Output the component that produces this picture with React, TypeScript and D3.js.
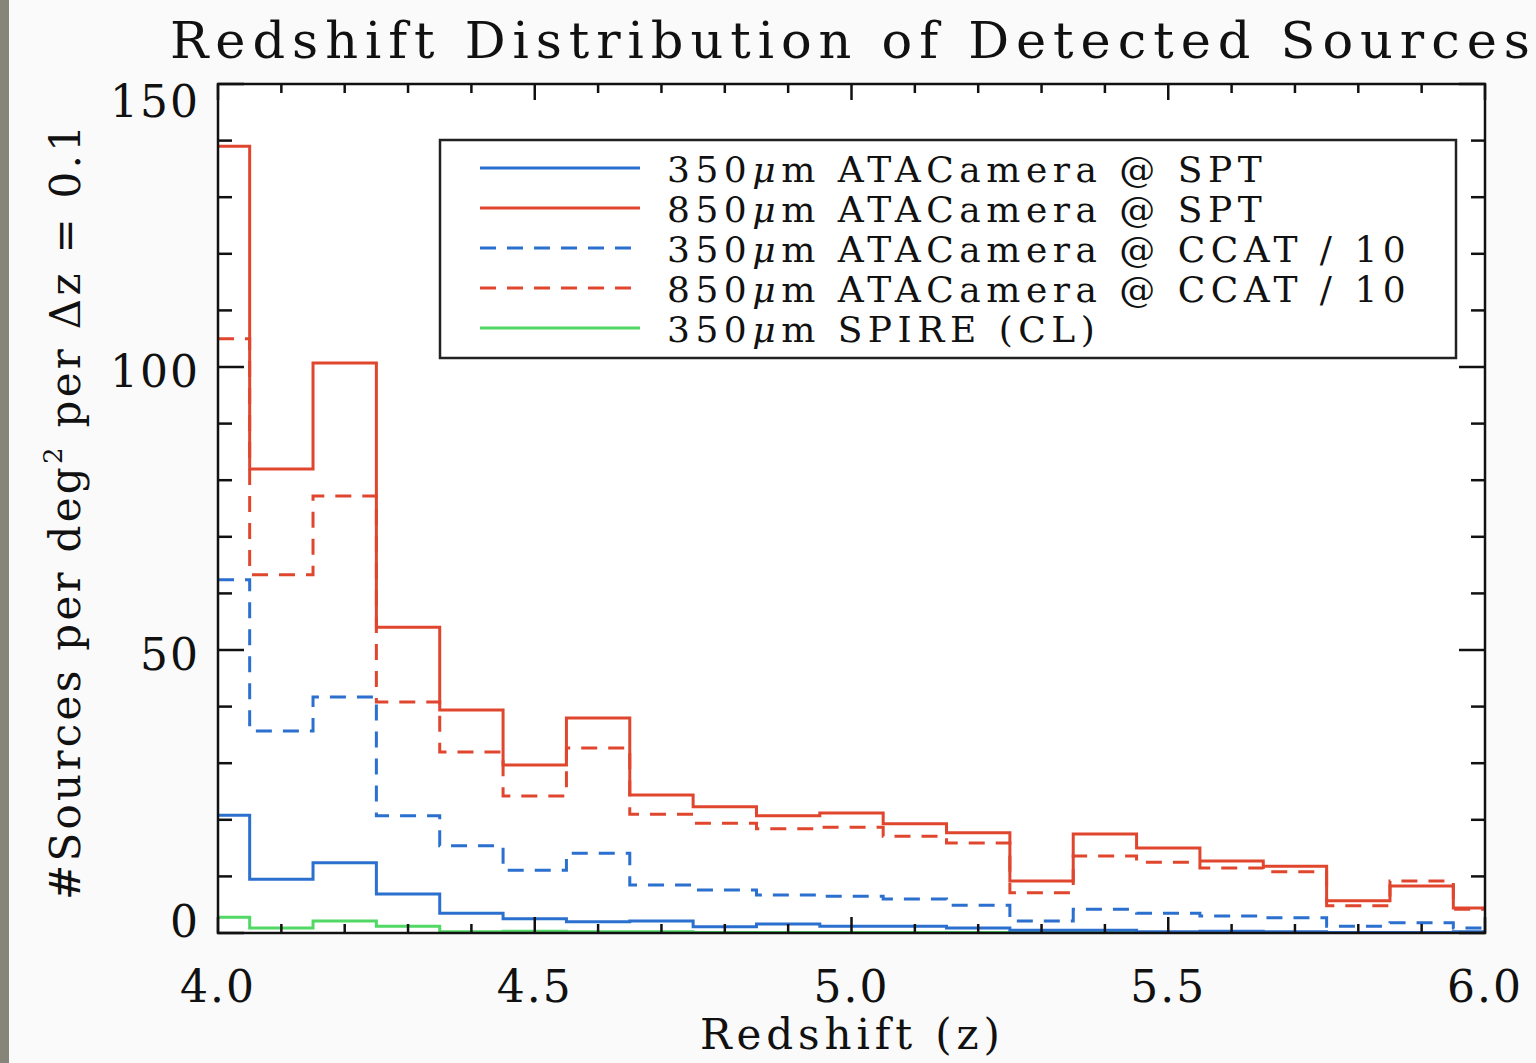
import React, { useEffect, useRef } from 'react';
import * as d3 from 'd3';

const W = 1536;
const H = 1063;
const FONT = '"DejaVu Serif", "Liberation Serif", serif';

// bin centres, dz = 0.1
const redshift = [4.0, 4.1, 4.2, 4.3, 4.4, 4.5, 4.6, 4.7, 4.8, 4.9, 5.0, 5.1, 5.2, 5.3, 5.4, 5.5, 5.6, 5.7, 5.8, 5.9, 6.0];

const spt350 = [20.8, 9.5, 12.4, 6.9, 3.5, 2.5, 2.0, 2.1, 1.1, 1.6, 1.2, 1.2, 0.9, 0.5, 0.5, 0.2, 0.3, 0.2, 0.1, 0.1, 0.2];
const spt850 = [139, 82, 100.7, 54, 39.4, 29.7, 38, 24.4, 22.3, 20.7, 21.2, 19.3, 17.7, 9.2, 17.5, 15, 12.7, 11.8, 5.7, 8.3, 4.4];
const ccat350 = [62.4, 35.7, 41.7, 20.7, 15.4, 11.1, 14.1, 8.5, 7.6, 6.7, 6.5, 6.0, 4.9, 2.1, 4.2, 3.5, 3.0, 2.7, 1.2, 1.8, 0.9];
const ccat850 = [105, 63.3, 77.2, 40.8, 32, 24.2, 32.7, 21, 19.4, 18.4, 18.7, 17.1, 15.9, 7.1, 13.6, 12.5, 11.5, 10.8, 4.8, 9.2, 4.2];
const spire350 = [2.8, 0.9, 2.1, 1.2, 0.2, 0.3, 0.2, 0.2, 0.1, 0.1, 0.1, 0.1, 0.1, 0.1, 0.1, 0.1, 0.1, 0.1, 0.1, 0.1, 0.1];

const seriesLabels = [
  ['350', 'ATACamera @ SPT'],
  ['850', 'ATACamera @ SPT'],
  ['350', 'ATACamera @ CCAT / 10'],
  ['850', 'ATACamera @ CCAT / 10'],
  ['350', 'SPIRE (CL)'],
];

const yTickLabels = [0, 50, 100, 150];
const xTickLabels = [4.0, 4.5, 5.0, 5.5, 6.0];

const BLUE = '#2b6fcf';
const RED = '#e0462d';
const GREEN = '#52d865';

const App = () => {
  const ref = useRef<SVGSVGElement>(null);

  useEffect(() => {
    const svg = d3.select(ref.current);
    svg.selectAll('*').remove();

    const left = 218, right = 1485, top = 84, bottom = 933;
    const x = d3.scaleLinear().domain([4, 6]).range([left, right]);
    const y = d3.scaleLinear().domain([0, 150]).range([bottom, top]);

    svg.append('rect').attr('width', W).attr('height', H).attr('fill', '#fafafa');
    // grey strip on the slide edge
    svg.append('rect').attr('x', 0).attr('y', 0).attr('width', 9).attr('height', H).attr('fill', '#85857a');
    svg.append('rect').attr('x', left).attr('y', top).attr('width', right - left).attr('height', bottom - top).attr('fill', '#fff');

    svg.append('defs').append('clipPath').attr('id', 'plotclip')
      .append('rect').attr('x', left).attr('y', top).attr('width', right - left).attr('height', bottom - top);

    const series = [
      { vals: spire350, color: GREEN, dash: null },
      { vals: spt350, color: BLUE, dash: null },
      { vals: ccat350, color: BLUE, dash: '16,11' },
      { vals: ccat850, color: RED, dash: '16,11' },
      { vals: spt850, color: RED, dash: null },
    ];

    const line = d3.line<number>()
      .x((d, i) => x(redshift[i]))
      .y(d => y(d))
      .curve(d3.curveStep);

    const g = svg.append('g').attr('clip-path', 'url(#plotclip)');
    series.forEach(s => {
      g.append('path')
        .attr('d', line(s.vals))
        .attr('fill', 'none')
        .attr('stroke', s.color)
        .attr('stroke-width', 3)
        .attr('stroke-dasharray', s.dash);
    });

    // ticks (all four sides)
    const tk = svg.append('g').attr('stroke', '#111').attr('stroke-width', 2.5);
    d3.range(40, 61).map(v => v / 10).forEach((v, i) => {
      const major = i % 5 === 0;
      const len = major ? 16 : 9;
      tk.append('line').attr('x1', x(v)).attr('x2', x(v)).attr('y1', bottom).attr('y2', bottom - len);
      tk.append('line').attr('x1', x(v)).attr('x2', x(v)).attr('y1', top).attr('y2', top + len);
    });
    d3.range(0, 151, 10).forEach(v => {
      const major = v % 50 === 0;
      const len = major ? 26 : 14;
      tk.append('line').attr('x1', left).attr('x2', left + len).attr('y1', y(v)).attr('y2', y(v));
      tk.append('line').attr('x1', right).attr('x2', right - len).attr('y1', y(v)).attr('y2', y(v));
    });

    svg.append('rect')
      .attr('x', left).attr('y', top).attr('width', right - left).attr('height', bottom - top)
      .attr('fill', 'none').attr('stroke', '#111').attr('stroke-width', 2.5);

    // tick labels
    yTickLabels.forEach(v => {
      svg.append('text')
        .attr('x', 200).attr('y', Math.max(top + 33, Math.min(bottom + 4, y(v) + 20)))
        .attr('text-anchor', 'end')
        .attr('font-family', FONT).attr('font-size', 44).attr('letter-spacing', 2)
        .attr('fill', '#111')
        .text(v);
    });
    xTickLabels.forEach(v => {
      svg.append('text')
        .attr('x', x(v)).attr('y', 1002)
        .attr('text-anchor', 'middle')
        .attr('font-family', FONT).attr('font-size', 44).attr('letter-spacing', 2)
        .attr('fill', '#111')
        .text(d3.format('.1f')(v));
    });

    // title & axis titles
    svg.append('text')
      .attr('x', 170).attr('y', 58)
      .attr('font-family', FONT).attr('font-size', 51)
      .attr('textLength', 1360).attr('lengthAdjust', 'spacing')
      .attr('fill', '#111')
      .text('Redshift Distribution of Detected Sources');

    svg.append('text')
      .attr('x', 700).attr('y', 1049)
      .attr('font-family', FONT).attr('font-size', 42)
      .attr('textLength', 300).attr('lengthAdjust', 'spacing')
      .attr('fill', '#111')
      .text('Redshift (z)');

    const yl = svg.append('text')
      .attr('transform', 'translate(80,900) rotate(-90)')
      .attr('font-family', FONT).attr('font-size', 42)
      .attr('textLength', 775).attr('lengthAdjust', 'spacing')
      .attr('fill', '#111');
    yl.append('tspan').text('#Sources per deg');
    yl.append('tspan').attr('font-size', 26).attr('dy', -18).text('2');
    yl.append('tspan').attr('dy', 18).text(' per \u0394z = 0.1');

    // legend
    const lg = svg.append('g');
    lg.append('rect')
      .attr('x', 440).attr('y', 140).attr('width', 1016).attr('height', 218)
      .attr('fill', '#fff').attr('stroke', '#222').attr('stroke-width', 2.5);
    const legendStyle = [
      { color: BLUE, dash: null },
      { color: RED, dash: null },
      { color: BLUE, dash: '16,11' },
      { color: RED, dash: '16,11' },
      { color: GREEN, dash: null },
    ];
    seriesLabels.forEach((lab, i) => {
      const ly = 168 + i * 40;
      lg.append('line')
        .attr('x1', 480).attr('x2', 640).attr('y1', ly).attr('y2', ly)
        .attr('stroke', legendStyle[i].color).attr('stroke-width', 3)
        .attr('stroke-dasharray', legendStyle[i].dash);
      const t = lg.append('text')
        .attr('x', 667).attr('y', ly + 14)
        .attr('font-family', FONT).attr('font-size', 36).attr('letter-spacing', 5.5)
        .attr('fill', '#111');
      t.append('tspan').text(lab[0]);
      t.append('tspan').attr('font-style', 'italic').text('\u03bc');
      t.append('tspan').text('m ' + lab[1]);
    });
  }, []);

  return (
    <svg ref={ref} width={W} height={H}
      style={{ position: 'absolute', left: 0, top: 0, display: 'block' }} />
  );
};

export default App;
